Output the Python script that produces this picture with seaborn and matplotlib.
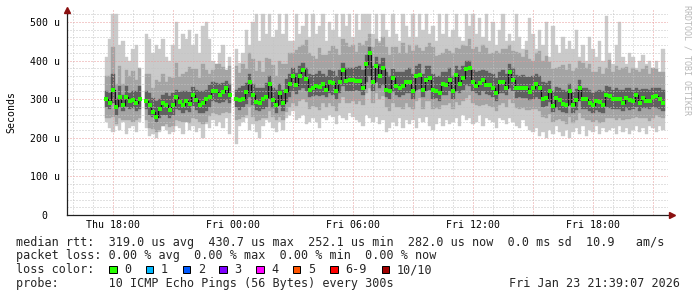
import numpy as np
import matplotlib
matplotlib.use("Agg")
import matplotlib.pyplot as plt
import matplotlib.transforms as mtransforms
from matplotlib.ticker import MultipleLocator, FuncFormatter, FixedLocator
from matplotlib.patches import Rectangle
import seaborn as sns

nan = float("nan")

# ---------------- data (microseconds), 10-minute samples from Thu 17:40 to Fri 21:30 ----------------
start_hour = 17 + 40 / 60.0   # hours since Thu 00:00
step_minutes = 10

median_rtt = [
    300, 290,
    325, 280, 305, 285, 305, 295,
    297, 290, 300, nan, 295, 285,
    268, 255, 275, 290, 285, 272,
    285, 305, 293, 285, 296, 288,
    312, 298, 285, 290, 300, 306,
    320, 322, 310, 318, 328, 310,
    nan, 300, 298, 300, 318, 345,
    310, 293, 290, 300, 306, 340,
    298, 285, 315, 290, 322, 340,
    360, 338, 360, 375, 352, 325,
    328, 335, 332, 340, 325, 345,
    342, 320, 345, 375, 346, 350,
    350, 348, 346, 330, 390, 420,
    345, 385, 360, 382, 325, 320,
    354, 335, 330, 335, 345, 345,
    320, 360, 362, 325, 350, 355,
    325, 322, 315, 340, 336, 350,
    320, 362, 340, 355, 378, 380,
    345, 335, 342, 350, 338, 337,
    330, 315, 345, 345, 330, 370,
    350, 328, 330, 328, 328, 318,
    330, 340, 330, 300, 302, 322,
    282, 302, 298, 288, 285, 320,
    284, 297, 330, 300, 300, 290,
    285, 296, 293, 285, 310, 307,
    300, 300, 300, 290, 303, 298,
    295, 310, 290, 302, 296, 294,
    305, 308, 300, 290,
]

max_rtt = [
    410, 455,
    520, 520, 440, 450, 410, 400,
    430, 440, 380, nan, 470, 455,
    420, 440, 430, 455, 410, 400,
    440, 500, 430, 470, 455, 480,
    440, 470, 420, 490, 500, 455,
    400, 390, 420, 440, 375, 410,
    nan, 430, 395, 420, 480, 440,
    500, 520, 450, 520, 470, 520,
    460, 480, 520, 470, 520, 450,
    450, 520, 470, 490, 520, 460,
    520, 470, 490, 520, 450, 500,
    480, 520, 460, 520, 490, 520,
    460, 520, 480, 520, 520, 520,
    470, 520, 450, 520, 480, 460,
    520, 470, 450, 520, 490, 460,
    520, 460, 520, 480, 520, 470,
    490, 450, 520, 470, 520, 460,
    480, 520, 460, 450, 520, 490,
    520, 470, 510, 460, 520, 450,
    500, 440, 480, 520, 450, 470,
    450, 520, 460, 430, 450, 510,
    470, 430, 480, 440, 500, 410,
    490, 440, 420, 460, 430, 450,
    430, 480, 410, 440, 400, 460,
    430, 410, 450, 400, 515, 420,
    390, 440, 500, 410, 390, 420,
    410, 380, 400, 415, 390, 400,
    380, 400, 370, 430,
]

min_rtt = [
    240, 225,
    215, 230, 220, 240, 210, 225,
    230, 215, 240, nan, 225, 205,
    210, 200, 215, 230, 220, 210,
    215, 230, 225, 210, 240, 220,
    230, 215, 225, 200, 235, 225,
    245, 230, 240, 225, 250, 210,
    nan, 185, 230, 240, 250, 220,
    235, 215, 200, 230, 245, 240,
    225, 215, 240, 220, 250, 260,
    270, 245, 250, 260, 235, 240,
    250, 240, 225, 250, 245, 260,
    255, 235, 260, 250, 245, 265,
    255, 245, 240, 230, 260, 250,
    240, 255, 235, 245, 215, 225,
    240, 230, 250, 225, 245, 235,
    245, 225, 250, 240, 255, 230,
    220, 235, 250, 230, 245, 235,
    240, 250, 230, 260, 245, 250,
    235, 240, 260, 230, 250, 245,
    240, 225, 250, 245, 235, 250,
    240, 230, 225, 245, 230, 220,
    215, 225, 205, 215, 200, 220,
    210, 230, 215, 205, 220, 200,
    215, 225, 210, 230, 205, 220,
    215, 230, 210, 225, 215, 220,
    225, 210, 230, 215, 225, 210,
    220, 230, 215, 225, 210, 230,
    225, 215, 230, 220,
]

# spread of the middle pings above / below the median
mid_up = [
    60, 70,
    110, 60, 80, 55, 70, 65,
    75, 60, 85, nan, 70, 80,
    60, 95, 70, 75, 60, 85,
    70, 90, 65, 80, 75, 95,
    65, 80, 70, 100, 75, 60,
    55, 70, 80, 65, 60, 75,
    nan, 85, 70, 90, 60, 75,
    95, 80, 110, 70, 100, 65,
    90, 75, 85, 100, 70, 80,
    60, 90, 75, 65, 100, 95,
    85, 70, 100, 75, 90, 80,
    95, 110, 70, 80, 100, 85,
    90, 75, 100, 110, 60, 50,
    90, 70, 85, 80, 110, 95,
    80, 100, 90, 110, 75, 95,
    105, 80, 70, 100, 85, 90,
    110, 90, 100, 80, 95, 75,
    100, 70, 90, 85, 60, 75,
    85, 100, 80, 90, 95, 80,
    90, 110, 75, 85, 100, 70,
    75, 95, 90, 80, 100, 85,
    70, 80, 95, 100, 110, 75,
    95, 80, 85, 100, 90, 70,
    90, 85, 70, 95, 80, 100,
    85, 75, 90, 80, 70, 95,
    70, 85, 75, 90, 80, 70,
    85, 65, 80, 75, 90, 70,
    75, 70, 85, 80,
]

mid_dn = [
    50, 40,
    70, 45, 55, 40, 60, 50,
    55, 45, 50, nan, 50, 60,
    45, 40, 55, 60, 50, 45,
    55, 60, 50, 45, 55, 50,
    60, 50, 45, 55, 60, 50,
    55, 60, 50, 55, 60, 45,
    nan, 55, 50, 45, 60, 65,
    55, 50, 45, 50, 55, 70,
    45, 40, 60, 45, 55, 60,
    70, 55, 65, 75, 60, 50,
    45, 55, 60, 50, 45, 55,
    60, 50, 55, 70, 55, 60,
    55, 60, 50, 45, 75, 90,
    55, 70, 60, 75, 45, 50,
    65, 55, 50, 60, 55, 65,
    45, 65, 60, 50, 55, 60,
    50, 45, 40, 55, 50, 60,
    45, 70, 55, 60, 75, 70,
    55, 50, 60, 65, 50, 55,
    50, 45, 60, 55, 50, 70,
    60, 50, 55, 50, 55, 45,
    55, 65, 60, 45, 50, 60,
    40, 55, 50, 45, 50, 65,
    45, 50, 65, 50, 55, 45,
    45, 50, 55, 45, 60, 55,
    50, 55, 50, 45, 55, 50,
    45, 55, 40, 50, 45, 50,
    55, 50, 45, 40,
]

# spread of the innermost pings above / below the median
core_up = [
    20, 25,
    40, 20, 30, 25, 30, 20,
    25, 30, 35, nan, 25, 30,
    35, 40, 25, 20, 30, 35,
    30, 20, 25, 35, 25, 30,
    20, 25, 35, 30, 25, 30,
    25, 20, 30, 25, 20, 30,
    nan, 25, 30, 35, 25, 20,
    30, 35, 40, 30, 35, 20,
    30, 40, 25, 35, 30, 25,
    20, 30, 25, 20, 30, 40,
    35, 30, 40, 25, 35, 30,
    30, 40, 30, 20, 35, 30,
    30, 35, 40, 45, 25, 15,
    40, 25, 30, 25, 45, 40,
    25, 35, 40, 35, 30, 35,
    45, 25, 30, 40, 35, 30,
    40, 35, 45, 30, 35, 30,
    40, 25, 35, 30, 20, 20,
    30, 35, 30, 25, 35, 30,
    35, 40, 25, 30, 35, 20,
    30, 35, 30, 35, 30, 40,
    30, 25, 30, 45, 40, 25,
    40, 30, 30, 35, 35, 20,
    35, 30, 20, 30, 30, 35,
    30, 25, 30, 35, 25, 25,
    25, 30, 25, 35, 25, 30,
    30, 20, 35, 25, 30, 30,
    25, 20, 30, 35,
]

core_dn = [
    20, 15,
    35, 20, 25, 15, 25, 20,
    20, 20, 25, nan, 20, 25,
    15, 15, 25, 30, 25, 20,
    25, 30, 20, 20, 25, 20,
    30, 25, 20, 25, 30, 25,
    25, 30, 20, 25, 30, 20,
    nan, 20, 25, 20, 30, 40,
    25, 20, 20, 25, 25, 40,
    20, 20, 30, 20, 30, 35,
    40, 25, 35, 45, 30, 20,
    20, 25, 25, 30, 20, 30,
    30, 20, 30, 40, 25, 30,
    30, 25, 25, 20, 45, 60,
    25, 40, 30, 45, 20, 20,
    35, 25, 25, 25, 30, 30,
    20, 35, 35, 20, 30, 30,
    25, 20, 20, 30, 25, 30,
    20, 40, 25, 30, 40, 45,
    25, 20, 30, 30, 25, 25,
    25, 20, 30, 30, 20, 40,
    30, 25, 25, 25, 25, 20,
    30, 35, 30, 20, 20, 30,
    15, 25, 25, 20, 20, 35,
    20, 25, 35, 25, 25, 20,
    20, 25, 25, 20, 30, 30,
    25, 25, 25, 20, 25, 25,
    20, 30, 20, 25, 20, 20,
    25, 30, 25, 20,
]

xtick_hours = [18, 24, 30, 36, 42]
xtick_labels = ["Thu 18:00", "Fri 00:00", "Fri 06:00", "Fri 12:00", "Fri 18:00"]

loss_labels = ["0", "1", "2", "3", "4", "5", "6-9", "10/10"]
loss_colors = ["#26ff00", "#00b8ff", "#0059ff", "#7e00ff", "#ff00ff",
               "#ff5500", "#ff0000", "#a10000"]

stat_line1 = "median rtt:  319.0 us avg  430.7 us max  252.1 us min  282.0 us now  0.0 ms sd  10.9   am/s"
stat_line2 = "packet loss: 0.00 % avg  0.00 % max  0.00 % min  0.00 % now"
probe_line = "probe:       10 ICMP Echo Pings (56 Bytes) every 300s"
stamp_text = "Fri Jan 23 21:39:07 2026"

# ---------------- figure ----------------
W, H = 697, 297
sns.set_style("white")
plt.rcParams["font.family"] = ["DejaVu Sans Mono", "DejaVu Sans"]

fig = plt.figure(figsize=(W / 100, H / 100), dpi=100)
fig.patch.set_facecolor("white")

ax_l, ax_r, ax_t, ax_b = 67, 668, 10, 215
ax = fig.add_axes([ax_l / W, (H - ax_b) / H, (ax_r - ax_l) / W, (ax_b - ax_t) / H])
ax.set_facecolor("white")

med = np.array(median_rtt, dtype=float)
t = start_hour + np.arange(len(med)) * step_minutes / 60.0
bw = step_minutes / 60.0
vmax = np.array(max_rtt, dtype=float)
vmin = np.array(min_rtt, dtype=float)
mid_hi = np.minimum(med + np.array(mid_up, float), vmax)
mid_lo = np.maximum(med - np.array(mid_dn, float), vmin)
core_hi = med + np.array(core_up, float)
core_lo = med - np.array(core_dn, float)

for lo, hi, col, z in [(vmin, vmax, "#cacaca", 1.0),
                       (mid_lo, mid_hi, "#a4a4a4", 1.1),
                       (core_lo, core_hi, "#606060", 1.2)]:
    ok = ~np.isnan(lo)
    ax.bar(t[ok], (hi - lo)[ok], bottom=lo[ok], width=bw, align="center",
           color=col, edgecolor=col, linewidth=0.25, zorder=z)
ax.step(t, med, where="mid", color="#111111", lw=0.9, zorder=1.5)
sns.scatterplot(x=t, y=med, marker="s", s=6.0, color="#26ff00", linewidth=0,
                ax=ax, zorder=4, legend=False)

ax.set_xlim(15.7, 45.75)
ax.set_ylim(0, 531)

ax.xaxis.set_major_locator(FixedLocator(list(range(18, 46, 3))))
ax.xaxis.set_minor_locator(MultipleLocator(1))
xlab = dict(zip(xtick_hours, xtick_labels))
ax.xaxis.set_major_formatter(FuncFormatter(lambda v, p: xlab.get(int(round(v)), "")))
ax.yaxis.set_major_locator(MultipleLocator(100))
ax.yaxis.set_minor_locator(MultipleLocator(20))
ax.yaxis.set_major_formatter(FuncFormatter(lambda v, p: "0  " if v == 0 else f"{int(v)} u"))

ax.grid(which="minor", color="#c4c4c4", ls=(0, (1, 2)), lw=0.72, zorder=2.4)
ax.grid(which="major", color="#e89a9a", ls=(0, (1, 2)), lw=0.72, zorder=2.5)
ax.set_axisbelow(False)

for s in ["top", "right"]:
    ax.spines[s].set_visible(False)
for s in ["left", "bottom"]:
    ax.spines[s].set_color("#202020")
    ax.spines[s].set_linewidth(0.9)
    ax.spines[s].set_zorder(5)

ax.tick_params(axis="x", which="major", length=2.5, width=0.7, direction="inout",
               pad=2.0, labelsize=7.1, colors="#202020", labelcolor="black")
ax.tick_params(axis="x", which="minor", length=1.6, width=0.7, direction="inout",
               colors="#202020")
ax.tick_params(axis="y", which="major", length=2.5, width=0.7, direction="inout",
               pad=3.8, labelsize=7.1, colors="#202020", labelcolor="black")
ax.tick_params(axis="y", which="minor", length=1.6, width=0.7, direction="inout",
               colors="#202020")

# axis arrows
up_tr = mtransforms.offset_copy(ax.transAxes, fig=fig, x=0, y=0, units="dots")
ax.plot([0], [1], marker="^", ms=4, color="#8b1010", transform=up_tr, clip_on=False, zorder=6)
rt_tr = mtransforms.offset_copy(ax.transAxes, fig=fig, x=4, y=0, units="dots")
ax.plot([1], [0], marker=">", ms=4, color="#8b1010", transform=rt_tr, clip_on=False, zorder=6)
ax.annotate("", xy=(ax_r + 4, 0), xycoords=("figure pixels", "axes fraction"),
            xytext=(1, 0), textcoords="axes fraction",
            arrowprops=dict(arrowstyle="-", color="#202020", lw=0.9))


def fx(x):
    return x / W


def fy(y):
    return 1 - y / H


fig.text(fx(11), fy(112), "Seconds", rotation=90, ha="center", va="center",
         fontsize=7.1, color="black")
fig.text(fx(687), fy(60), "RRDTOOL / TOBI OETIKER", rotation=270, ha="center",
         va="center", fontsize=6.0, color="#b8b8b8")

fs = 8.5
fig.text(fx(16), fy(245.7), stat_line1, ha="left", va="baseline", fontsize=fs)
fig.text(fx(16), fy(259.5), stat_line2, ha="left", va="baseline", fontsize=fs)
fig.text(fx(16), fy(273.3), "loss color:", ha="left", va="baseline", fontsize=fs)
fig.text(fx(16), fy(287.3), probe_line, ha="left", va="baseline", fontsize=fs)
fig.text(fx(680), fy(287.3), stamp_text, ha="right", va="baseline", fontsize=fs)

box_x = [109, 145.7, 182.7, 219.3, 256, 292.7, 330, 381.7]
for bx, lab, col in zip(box_x, loss_labels, loss_colors):
    fig.patches.append(Rectangle((fx(bx), fy(273.3)), 7.5 / W, 7.5 / H,
                                 transform=fig.transFigure, facecolor=col,
                                 edgecolor="black", lw=0.72))
    fig.text(fx(bx + 15), fy(273.3), lab, ha="left", va="baseline", fontsize=fs)

fig.savefig("out.png", dpi=100, facecolor="white")
